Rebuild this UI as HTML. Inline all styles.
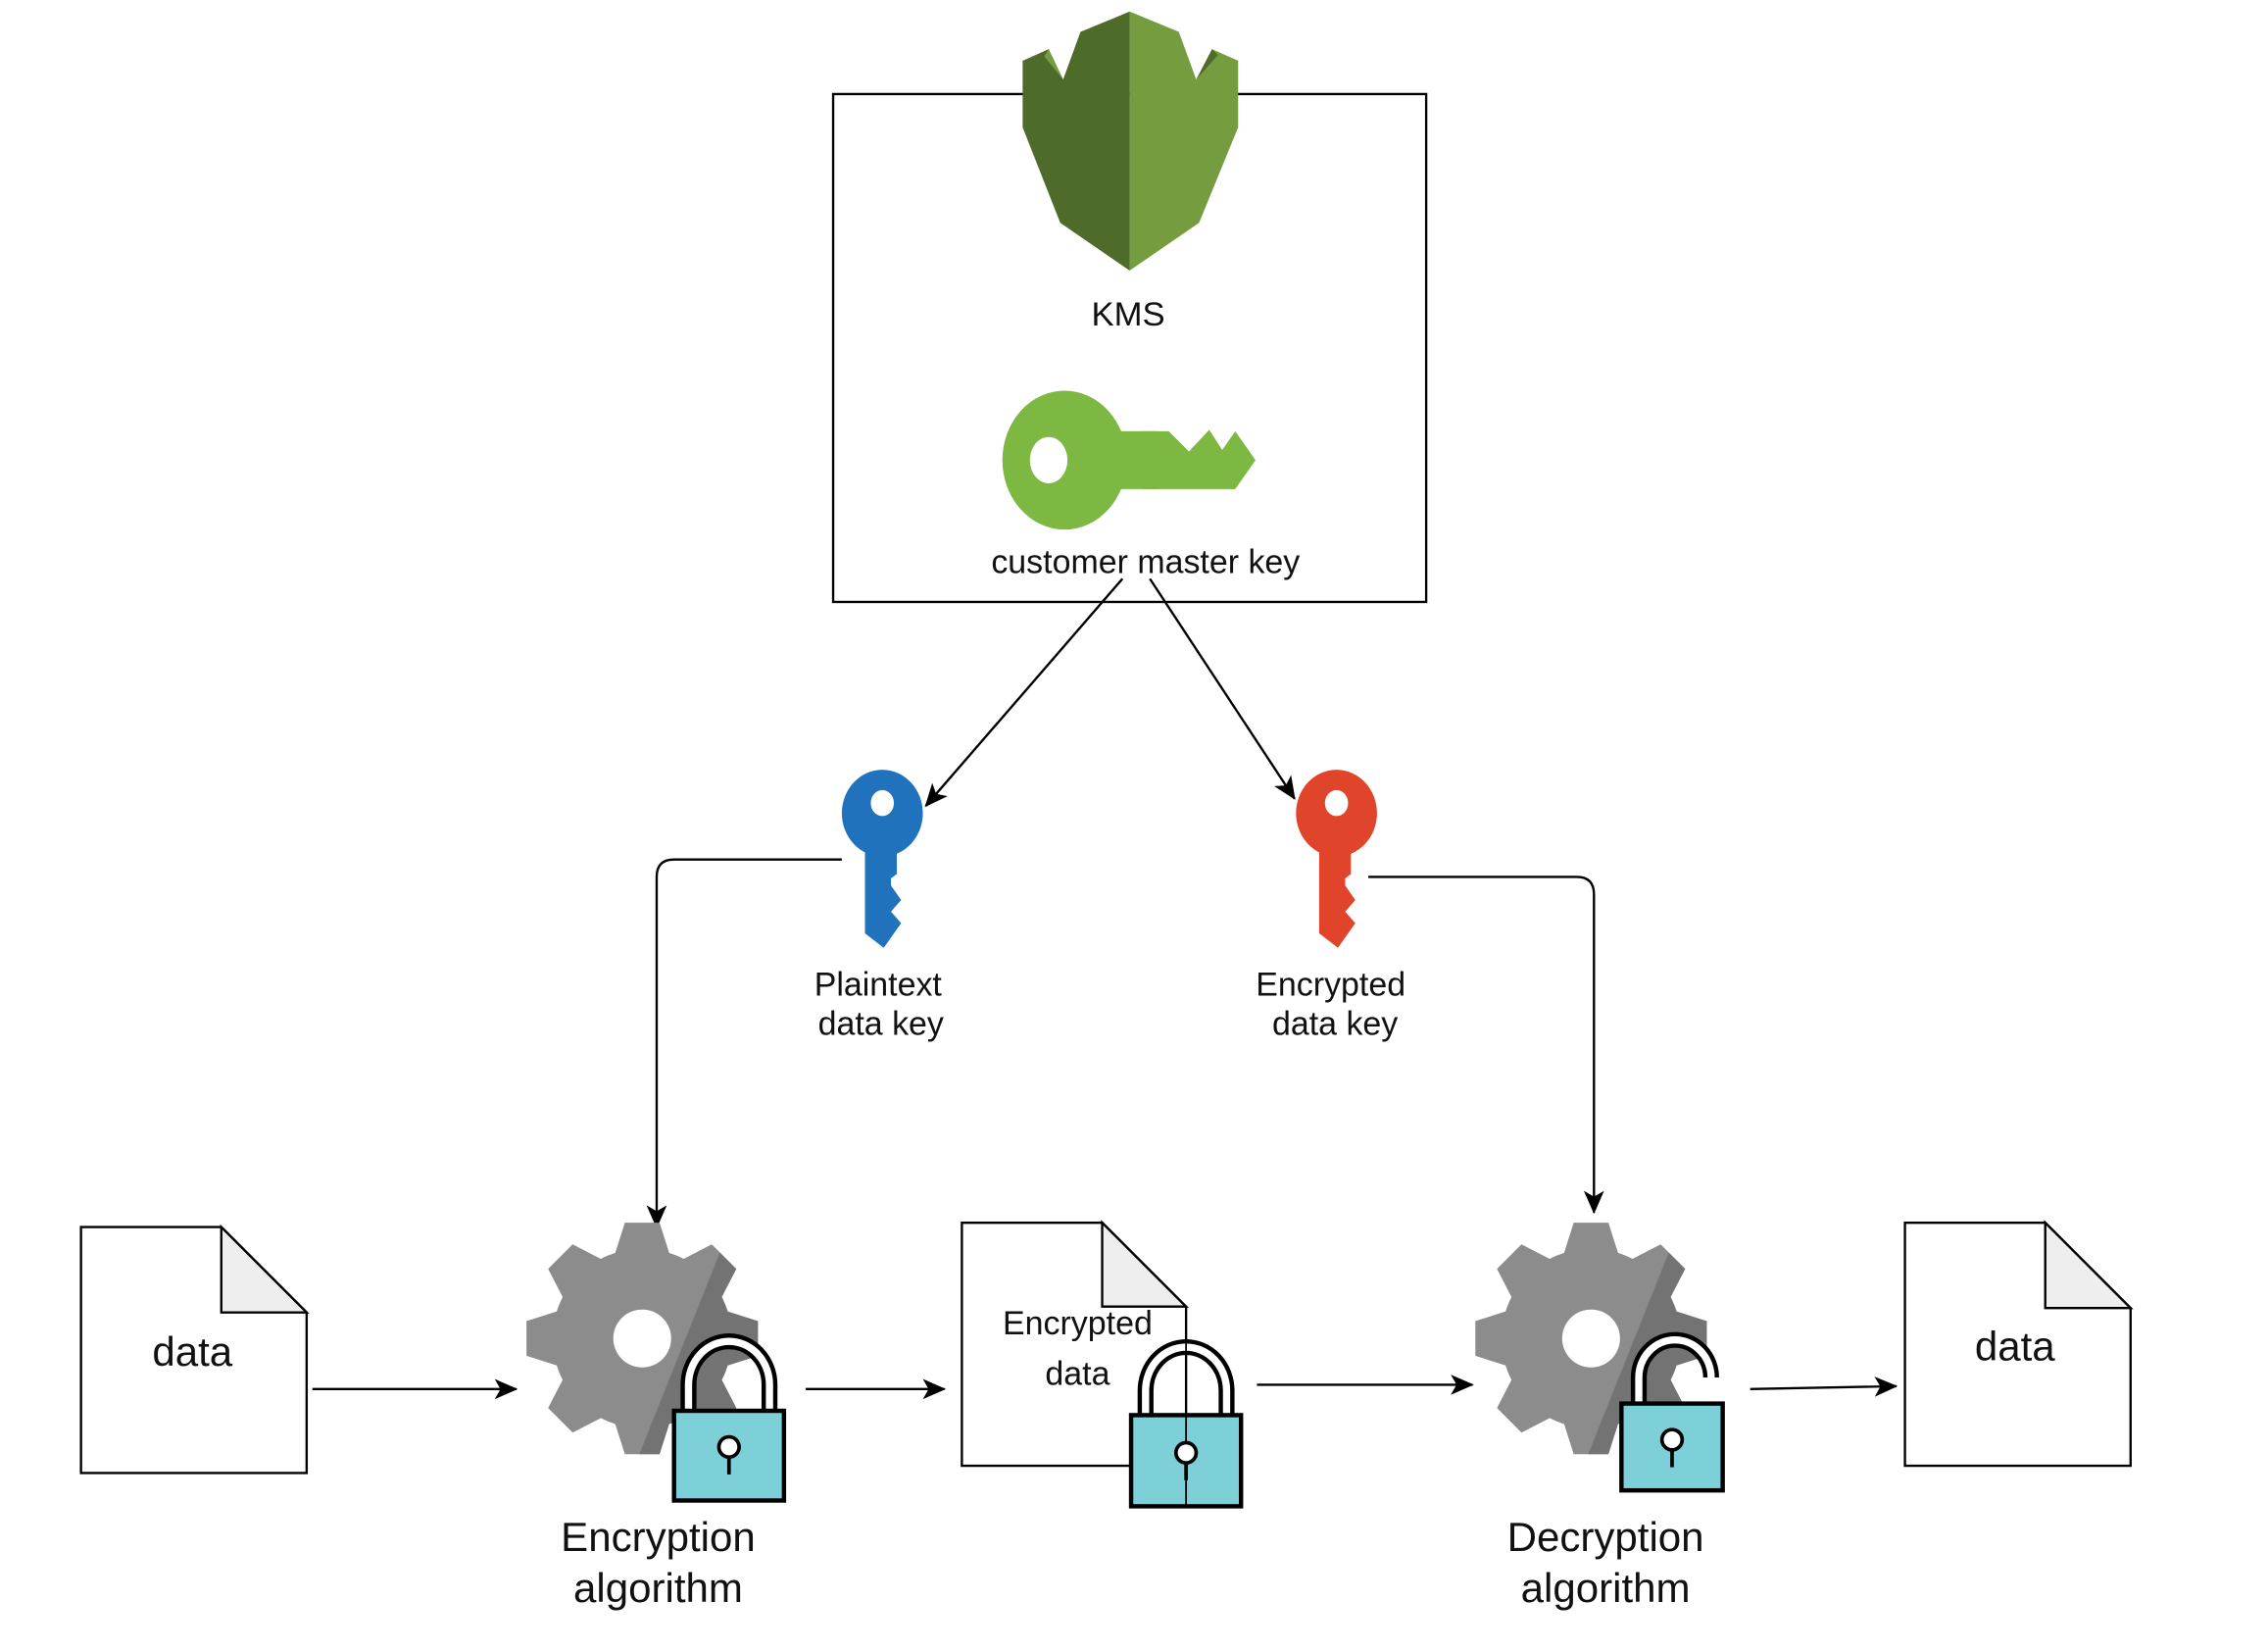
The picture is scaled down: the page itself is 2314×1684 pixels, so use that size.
<!DOCTYPE html>
<html><head><meta charset="utf-8"><style>
html,body{margin:0;padding:0;background:#fff;}
svg{display:block;}
text{font-family:"Liberation Sans",sans-serif;fill:#111;}
</style></head><body>
<svg width="2314" height="1684" viewBox="0 0 1568 1141" preserveAspectRatio="none" xmlns="http://www.w3.org/2000/svg">
<defs>
<marker id="ah" markerWidth="16" markerHeight="14" refX="15" refY="7" orient="auto" markerUnits="userSpaceOnUse">
<path d="M0,0 L16,7 L0,14 L4,7 Z" fill="#000"/>
</marker>
<g id="gear">
<circle cx="0" cy="0" r="62"/>
<g id="tooth"><polygon points="-19,-58 19,-58 12,-80 -12,-80"/></g>
<use href="#tooth" transform="rotate(45)"/>
<use href="#tooth" transform="rotate(90)"/>
<use href="#tooth" transform="rotate(135)"/>
<use href="#tooth" transform="rotate(180)"/>
<use href="#tooth" transform="rotate(225)"/>
<use href="#tooth" transform="rotate(270)"/>
<use href="#tooth" transform="rotate(315)"/>
</g>
<clipPath id="dk"><polygon points="70,-100 200,-100 200,200 -50,200"/></clipPath>
</defs>

<rect x="576" y="65" width="410" height="351" fill="none" stroke="#000" stroke-width="1.6"/>
<polygon points="781,8 747,22 735,55 725,34 707,42 707,88 733,154 781,187" fill="#4f6b2a"/>
<polygon points="781,8 815,22 827,55 838,34 856,42 856,88 829,154 781,187" fill="#759c3e"/>
<polygon points="725,34 735,55 722,39" fill="#759c3e"/>
<polygon points="838,34 827,55 842,38" fill="#4f6b2a"/>
<text x="780" y="225" font-size="23.5" text-anchor="middle">KMS</text>
<ellipse cx="736" cy="318" rx="43" ry="48" fill="#7db843"/>
<rect x="760" y="298" width="40" height="40" fill="#7db843"/>
<polygon points="790,298 808,298 822,312 836,297 845,311 854,298 868,318 854,338 790,338" fill="#7db843"/>
<ellipse cx="725" cy="318" rx="13" ry="16" fill="#fff"/>
<text x="792" y="396" font-size="23" text-anchor="middle">customer master key</text>

<line x1="776" y1="400" x2="640" y2="557" stroke="#000" stroke-width="1.6" marker-end="url(#ah)"/>
<line x1="795" y1="400" x2="895" y2="552" stroke="#000" stroke-width="1.6" marker-end="url(#ah)"/>

<g fill="#1f72bb">
<ellipse cx="610" cy="562" rx="28" ry="30"/>
<path d="M600,585 L620,585 L620,604 L616,607 L616,612 L623,622 L616,630 L623,638 L611,655 L598,645 L598,585 Z"/>
</g>
<ellipse cx="610" cy="555" rx="8" ry="9" fill="#fff"/>
<text x="607" y="688" font-size="23" text-anchor="middle">Plaintext</text>
<text x="609" y="715" font-size="23" text-anchor="middle">data key</text>

<g fill="#e0452b">
<ellipse cx="924" cy="562" rx="28" ry="30"/>
<path d="M914,585 L934,585 L934,604 L930,607 L930,612 L937,622 L930,630 L937,638 L925,655 L912,645 L912,585 Z"/>
</g>
<ellipse cx="924" cy="555" rx="8" ry="9" fill="#fff"/>
<text x="920" y="688" font-size="23" text-anchor="middle">Encrypted</text>
<text x="923" y="715" font-size="23" text-anchor="middle">data key</text>

<path d="M582,594 L466,594 Q454,594 454,606 L454,848" fill="none" stroke="#000" stroke-width="1.6" marker-end="url(#ah)"/>
<path d="M946,606 L1090,606 Q1102,606 1102,618 L1102,838" fill="none" stroke="#000" stroke-width="1.6" marker-end="url(#ah)"/>

<path d="M56,848 L153,848 L212,907 L212,1018 L56,1018 Z" fill="#fff" stroke="#000" stroke-width="1.6"/>
<path d="M153,848 L153,907 L212,907 Z" fill="#eee" stroke="#000" stroke-width="1.6"/>
<text x="133" y="944" font-size="28.5" text-anchor="middle">data</text>
<line x1="216" y1="960" x2="357" y2="960" stroke="#000" stroke-width="1.6" marker-end="url(#ah)"/>

<g transform="translate(444,925)">
<use href="#gear" fill="#8c8c8c"/>
<use href="#gear" fill="#737373" clip-path="url(#dk)"/>
<circle r="20" fill="#fff"/>
</g>
<path d="M476,976 L476,957 A28,30 0 0 1 532,957 L532,976" fill="none" stroke="#000" stroke-width="11"/>
<path d="M476,976 L476,957 A28,30 0 0 1 532,957 L532,976" fill="none" stroke="#fff" stroke-width="5"/>
<rect x="466" y="975" width="76" height="62" fill="#7dcfd8" stroke="#000" stroke-width="3"/>
<circle cx="504" cy="1000" r="7" fill="#fff" stroke="#000" stroke-width="2.5"/>
<line x1="504" y1="1007" x2="504" y2="1019" stroke="#000" stroke-width="2.5"/>
<text x="455" y="1072" font-size="28.5" text-anchor="middle">Encryption</text>
<text x="455" y="1107" font-size="28.5" text-anchor="middle">algorithm</text>

<line x1="557" y1="960" x2="653" y2="960" stroke="#000" stroke-width="1.6" marker-end="url(#ah)"/>

<path d="M665,845 L762,845 L820,903 L820,1013 L665,1013 Z" fill="#fff" stroke="#000" stroke-width="1.6"/>
<path d="M762,845 L762,903 L820,903 Z" fill="#eee" stroke="#000" stroke-width="1.6"/>
<text x="745" y="922" font-size="23" text-anchor="middle">Encrypted</text>
<text x="745" y="957" font-size="23" text-anchor="middle">data</text>
<path d="M792,979 L792,961 A28,30 0 0 1 848,961 L848,979" fill="none" stroke="#000" stroke-width="11"/>
<path d="M792,979 L792,961 A28,30 0 0 1 848,961 L848,979" fill="none" stroke="#fff" stroke-width="5"/>
<rect x="782" y="978" width="76" height="63" fill="#7dcfd8" stroke="#000" stroke-width="3"/>
<line x1="820" y1="903" x2="820" y2="1041" stroke="#000" stroke-width="1.2"/>
<circle cx="820" cy="1004" r="7" fill="#fff" stroke="#000" stroke-width="2.5"/>
<line x1="820" y1="1011" x2="820" y2="1023" stroke="#000" stroke-width="2.5"/>

<line x1="869" y1="957" x2="1018" y2="957" stroke="#000" stroke-width="1.6" marker-end="url(#ah)"/>

<g transform="translate(1100,925)">
<use href="#gear" fill="#8c8c8c"/>
<use href="#gear" fill="#737373" clip-path="url(#dk)"/>
<circle r="20" fill="#fff"/>
</g>
<path d="M1133,971 L1133,952 A25,26 0 0 1 1183,952" fill="none" stroke="#000" stroke-width="11"/>
<path d="M1133,971 L1133,952 A25,26 0 0 1 1183,952" fill="none" stroke="#fff" stroke-width="5"/>
<rect x="1121" y="970" width="70" height="60" fill="#7dcfd8" stroke="#000" stroke-width="3"/>
<circle cx="1156" cy="995" r="7" fill="#fff" stroke="#000" stroke-width="2.5"/>
<line x1="1156" y1="1002" x2="1156" y2="1014" stroke="#000" stroke-width="2.5"/>
<text x="1110" y="1072" font-size="28.5" text-anchor="middle">Decryption</text>
<text x="1110" y="1107" font-size="28.5" text-anchor="middle">algorithm</text>

<line x1="1210" y1="960" x2="1311" y2="958" stroke="#000" stroke-width="1.6" marker-end="url(#ah)"/>

<path d="M1317,845 L1414,845 L1473,904 L1473,1013 L1317,1013 Z" fill="#fff" stroke="#000" stroke-width="1.6"/>
<path d="M1414,845 L1414,904 L1473,904 Z" fill="#eee" stroke="#000" stroke-width="1.6"/>
<text x="1393" y="940" font-size="28.5" text-anchor="middle">data</text>
</svg>
</body></html>
